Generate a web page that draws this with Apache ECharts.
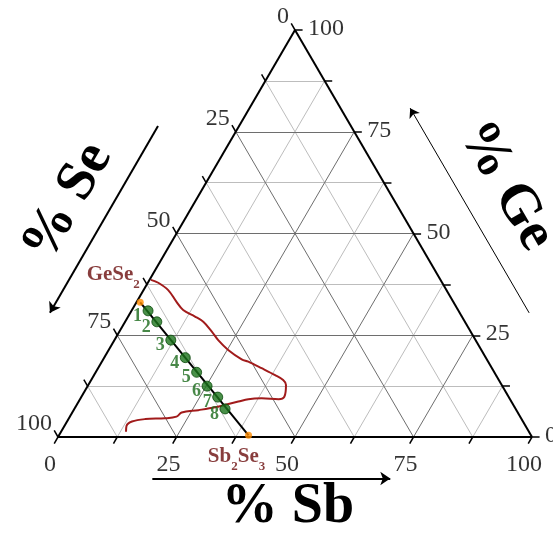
<!DOCTYPE html>
<html><head><meta charset="utf-8">
<script src="https://cdn.jsdelivr.net/npm/echarts@6/dist/echarts.min.js"></script>
<style>html,body{margin:0;padding:0;background:#fff}#c{width:553px;height:533px}</style>
</head><body><div id="c"></div>
<script>
// ---- data (ternary compositions: % Sb, % Ge; % Se = 100 - Sb - Ge) ----
const tickValues = [0, 12.5, 25, 37.5, 50, 62.5, 75, 87.5, 100];
const labelValues = [0, 25, 50, 75, 100];
const gridValues = [12.5, 25, 37.5, 50, 62.5, 75, 87.5];
const majorGridValues = [25, 50, 75];

const sampleNames = ['1', '2', '3', '4', '5', '6', '7', '8'];
const sampleSb = [3.5, 6.7, 11.9, 17.1, 21.3, 25.2, 28.8, 31.8];
const sampleGe = [31.0, 28.3, 23.8, 19.5, 15.9, 12.5, 9.8, 6.9];

const compoundNames = ['GeSe2', 'Sb2Se3'];
const compoundSb = [0.8, 40.0];
const compoundGe = [33.1, 0.4];

const regionSb = [0.3, 2.2, 5.2, 8.4, 10.8, 14.1, 16.5, 19.5, 21.9, 25.2, 29.2, 30.9, 34.5, 38.2, 40.5, 41.7, 42.8, 41.9, 38.2, 35.5, 33.7, 31.9, 29.5, 26.3, 23.1, 22.5, 20.3, 16.2, 13.7, 13.1, 13.7];
const regionGe = [38.6, 37.9, 36.1, 33.2, 31.2, 29.6, 28.3, 25.9, 23.8, 21.4, 19.1, 18.5, 16.9, 15.2, 14.0, 12.8, 9.9, 9.3, 9.5, 9.3, 8.7, 8.1, 7.3, 6.6, 6.0, 5.0, 4.6, 4.4, 3.8, 2.7, 1.3];

// ---- layout ----
const W = 553, H = 533;
const BLx = 58, BLy = 437, BRx = 532, TOPy = 30;
const sx = (BRx - BLx) / 100, sy = (BLy - TOPy) / 100;
const TL = 1.6; // tick length in composition units
const serif = '"Liberation Serif", "Times New Roman", serif';

const cart = (sb, ge) => [sb + ge / 2, ge];

function seg(a, b) { return { coords: [a, b] }; }

const minorGrid = [], majorGrid = [];
gridValues.forEach(v => {
  const target = majorGridValues.includes(v) ? majorGrid : minorGrid;
  target.push(seg(cart(v, 0), cart(v, 100 - v)));          // const Sb
  target.push(seg(cart(0, v), cart(100 - v, v)));          // const Ge
  target.push(seg(cart(100 - v, 0), cart(0, 100 - v)));    // const Se
});

const frame = [
  seg(cart(0, 0), cart(100, 0)),
  seg(cart(100, 0), cart(0, 100)),
  seg(cart(0, 100), cart(0, 0))
];

const ticks = [];
tickValues.forEach(v => {
  ticks.push(seg(cart(v, 0), cart(v, -TL)));                       // Sb axis
  ticks.push(seg(cart(100 - v, v), cart(100 - v + TL, v)));         // Ge axis
  ticks.push(seg(cart(0, 100 - v), cart(-TL, 100 - v + TL)));       // Se axis
});

const labelBase = {
  type: 'scatter', symbolSize: 0.1, itemStyle: { color: 'rgba(0,0,0,0)' },
  silent: true, z: 5
};
const tickFont = { fontFamily: serif, fontSize: 24, color: '#000' };

const sbLabels = Object.assign({}, labelBase, {
  data: labelValues.map(v => ({ value: cart(v, 0), name: String(v) })),
  label: Object.assign({ show: true, formatter: '{b}', position: [-8, 28], align: 'center', verticalAlign: 'middle' }, tickFont)
});
const geLabels = Object.assign({}, labelBase, {
  data: labelValues.map(v => ({ value: cart(100 - v, v), name: String(v) })),
  label: Object.assign({ show: true, formatter: '{b}', position: [13, -1], align: 'left', verticalAlign: 'middle' }, tickFont)
});
const seLabels = Object.assign({}, labelBase, {
  data: labelValues.map(v => ({ value: cart(0, 100 - v), name: String(v) })),
  label: Object.assign({ show: true, formatter: '{b}', position: [-6, -13], align: 'right', verticalAlign: 'middle' }, tickFont)
});

const arrowsThick = [
  seg(cart(25, -10.2), cart(75.2, -10.2)),          // % Sb direction
  seg([21.1, 76.4], [-1.7, 30.5])                   // % Se direction
];
const arrowsThin = [
  seg([99.4, 30.5], [74.3, 80.8])                   // % Ge direction
];

const compoundColor = '#6a0c0c';
const compoundRich = {
  a: { fontFamily: serif, fontSize: 21, fontWeight: 'bold', color: compoundColor, lineHeight: 22 },
  b: { fontFamily: serif, fontSize: 13, fontWeight: 'bold', color: compoundColor, lineHeight: 32, verticalAlign: 'bottom' }
};
const compoundText = {
  GeSe2: '{a|GeSe}{b|2}',
  Sb2Se3: '{a|Sb}{b|2}{a|Se}{b|3}'
};
const compoundOffsets = { GeSe2: [-27, -3], Sb2Se3: [-12, -3] };
const compoundPositions = { GeSe2: 'top', Sb2Se3: 'bottom' };

const titleFont = 'bold 56px ' + serif;

const option = {
  animation: false,
  backgroundColor: '#fff',
  grid: { left: 0, right: 0, top: 0, bottom: 0, containLabel: false },
  xAxis: { type: 'value', min: -BLx / sx, max: (W - BLx) / sx, show: false },
  yAxis: { type: 'value', min: -(H - BLy) / sy, max: BLy / sy, show: false },
  graphic: [
    { type: 'text', x: 288, y: 508, style: { text: '% Sb', font: titleFont, align: 'center', verticalAlign: 'middle', fill: '#000' } },
    { type: 'text', x: 68, y: 202, rotation: Math.PI / 3, style: { text: '% Se', font: titleFont, align: 'center', verticalAlign: 'middle', fill: '#000' } },
    { type: 'text', x: 506, y: 186, rotation: -Math.PI / 3, style: { text: '% Ge', font: titleFont, align: 'center', verticalAlign: 'middle', fill: '#000' } }
  ],
  series: [
    { type: 'lines', coordinateSystem: 'cartesian2d', data: minorGrid, lineStyle: { color: '#bdbdbd', width: 1, opacity: 1 }, silent: true, z: 1 },
    { type: 'lines', coordinateSystem: 'cartesian2d', data: majorGrid, lineStyle: { color: '#6e6e6e', width: 1, opacity: 1 }, silent: true, z: 1 },
    { type: 'lines', coordinateSystem: 'cartesian2d', data: frame, lineStyle: { color: '#000', width: 2, opacity: 1 }, silent: true, z: 2 },
    { type: 'lines', coordinateSystem: 'cartesian2d', data: ticks, lineStyle: { color: '#000', width: 1.5, opacity: 1 }, silent: true, z: 2 },
    { type: 'lines', coordinateSystem: 'cartesian2d', data: arrowsThick, symbol: ['none', 'arrow'], symbolSize: 10, lineStyle: { color: '#000', width: 2, opacity: 1 }, silent: true, z: 2 },
    { type: 'lines', coordinateSystem: 'cartesian2d', data: arrowsThin, symbol: ['none', 'arrow'], symbolSize: 9, lineStyle: { color: '#000', width: 1, opacity: 1 }, silent: true, z: 2 },
    sbLabels, geLabels, seLabels,
    {
      type: 'line', data: regionSb.map((s, i) => cart(s, regionGe[i])), smooth: 0.35, showSymbol: false,
      lineStyle: { color: '#a11b1b', width: 2 }, silent: true, z: 3
    },
    {
      type: 'lines', coordinateSystem: 'cartesian2d',
      data: [seg(cart(compoundSb[0], compoundGe[0]), cart(compoundSb[1], compoundGe[1]))],
      lineStyle: { color: '#000', width: 2, opacity: 1 }, silent: true, z: 4
    },
    {
      type: 'scatter', z: 6, symbolSize: 10,
      data: sampleNames.map((n, i) => ({ name: n, value: cart(sampleSb[i], sampleGe[i]) })),
      itemStyle: { color: '#1b741b', borderColor: '#0c4a0c', borderWidth: 1 },
      label: { show: true, formatter: '{b}', position: [-5, 11], align: 'center', verticalAlign: 'middle', fontFamily: serif, fontSize: 18, fontWeight: 'bold', color: '#1a6a1a' }
    },
    {
      type: 'scatter', z: 6, symbolSize: 7,
      data: compoundNames.map((n, i) => ({
        name: n, value: cart(compoundSb[i], compoundGe[i]),
        label: { position: compoundPositions[n], offset: compoundOffsets[n] }
      })),
      itemStyle: { color: '#ff8c00' },
      label: { show: true, formatter: p => compoundText[p.name], rich: compoundRich }
    }
  ]
};

const chart = echarts.init(document.getElementById('c'), null, { renderer: 'canvas' });
chart.setOption(option);
</script>
</body></html>
